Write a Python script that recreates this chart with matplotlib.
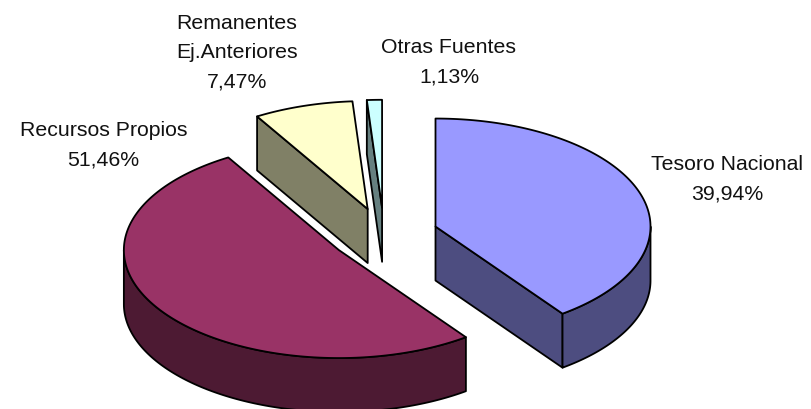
import numpy as np
import matplotlib
matplotlib.use("Agg")
import matplotlib.pyplot as plt
from matplotlib.patches import Polygon

categories = ["Tesoro Nacional", "Recursos Propios", "Remanentes\nEj.Anteriores", "Otras Fuentes"]
values = [39.94, 51.46, 7.47, 1.13]
value_labels = ["39,94%", "51,46%", "7,47%", "1,13%"]
top_colors = ["#9999FF", "#993366", "#FFFFCC", "#CCFFFF"]
side_colors = ["#4D4D80", "#4D1A33", "#808066", "#668080"]
label_pos = [(727, 179.5), (103.5, 145.5), (237, 53), (449, 62.5)]

CX, CY, RX, RY, DEPTH, EXPLODE = 384, 236, 215, 108, 54, 0.252

plt.rcParams["font.family"] = ["Liberation Sans", "DejaVu Sans"]
fig = plt.figure(figsize=(8.12, 4.10), dpi=100)
ax = fig.add_axes([0, 0, 1, 1])
ax.set_xlim(0, 812)
ax.set_ylim(410, 0)
ax.axis("off")


def pt(ax0, ay0, deg):
    r = np.radians(deg)
    return np.column_stack((ax0 + RX * np.sin(r), ay0 - RY * np.cos(r)))


def poly(xy, color, z):
    ax.add_patch(Polygon(xy, closed=True, facecolor=color, edgecolor="black",
                         linewidth=1.3, joinstyle="round", zorder=z))


edges = np.concatenate(([0], np.cumsum(values))) * 3.6
for i, (a, b) in enumerate(zip(edges[:-1], edges[1:])):
    mid = np.radians((a + b) / 2)
    x0 = CX + EXPLODE * RX * np.sin(mid)
    y0 = CY - EXPLODE * RY * np.cos(mid)
    z = 2 + i
    # radial walls facing the viewer
    for ang, normal in ((a, a - 90), (b, b + 90)):
        if np.cos(np.radians(normal)) < 0:
            p = pt(x0, y0, np.array([ang]))[0]
            poly([(x0, y0), p, (p[0], p[1] + DEPTH), (x0, y0 + DEPTH)], side_colors[i], z)
    # outer cylinder wall, front half only
    lo, hi = max(a, 90), min(b, 270)
    if hi > lo:
        arc = pt(x0, y0, np.linspace(lo, hi, 120))
        low = arc[::-1] + [0, DEPTH]
        poly(np.vstack((arc, low)), side_colors[i], z)
    # top face
    arc = pt(x0, y0, np.linspace(a, b, 200))
    poly(np.vstack(([(x0, y0)], arc)), top_colors[i], z + 0.5)

for name, val, (lx, ly) in zip(categories, value_labels, label_pos):
    ax.text(lx, ly, f"{name}\n{val}", ha="center", va="center", fontsize=15.3,
            linespacing=1.67, color="#111111")

fig.savefig("out.png", dpi=100, facecolor="white")
